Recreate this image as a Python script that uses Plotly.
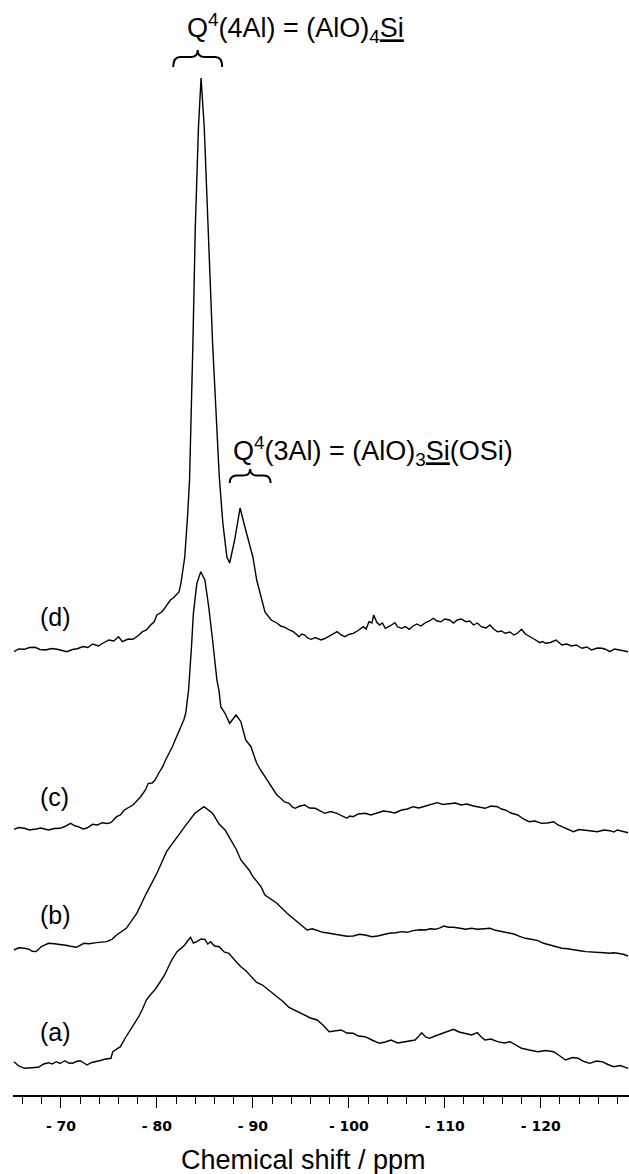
import plotly.graph_objects as go

# ---------------- data (chemical shift in ppm, intensity in arbitrary units) ----------------
shift_a = [-65.1, -65.6, -66.2, -66.9, -67.65, -68.2, -68.7, -69.1, -69.5, -69.9, -70.4, -70.8, -71.2, -71.6,
           -72.0, -72.4, -72.7, -73.2, -73.7, -74.1, -74.55, -74.9, -75.2, -75.4, -75.8, -76.2, -76.7, -77.26,
           -77.7, -78.1, -78.5, -78.9, -79.3, -79.77, -80.4, -80.8, -81.2, -81.6, -82.1, -82.5, -82.9, -83.2,
           -83.5, -83.8, -84.16, -84.6, -85.0, -85.3, -85.6, -86.0, -86.5, -87.0, -87.5, -88.1, -88.75, -89.3,
           -89.8, -90.4, -91.0, -91.5, -92.1, -92.6, -93.2, -93.77, -94.3, -94.8, -95.4, -96.0, -96.7, -97.3,
           -97.95, -98.5, -99.2, -99.8, -100.45, -101.0, -101.7, -102.4, -103.2, -103.8, -104.4, -105.1,
           -105.9, -106.4, -106.9, -107.3, -107.6, -108.0, -108.4, -109.0, -109.6, -110.2, -110.9, -111.5,
           -112.2, -112.8, -113.4, -113.8, -114.2, -114.8, -115.5, -116.2, -116.8, -117.4, -118.0, -118.8,
           -119.7, -120.5, -121.35, -122.0, -122.6, -123.3, -123.9, -124.5, -125.1, -125.8, -126.4, -127.0,
           -127.6, -128.3, -129.1]
int_a = [3.3, -1, -3.3, -2.5, -2.3, 1, 2.3, 1, 3.3, 1.5, 4.3, 2, 1.7, 3.5,
         4.3, 2, 0, 2.5, 3.3, 4.5, 5.7, 6, 6.7, 13.3, 16, 18.3, 27, 35,
         42, 48.3, 56, 65, 70, 75, 84, 90, 98.3, 106, 113.3, 117, 120, 124,
         127.7, 122, 123.3, 126, 125.7, 121, 123.3, 119, 118.3, 113, 111.7, 105, 98.3, 94,
         89, 82.5, 80, 76, 71.5, 68, 63, 57.5, 55, 52, 49, 47, 45, 40,
         33.3, 34, 35, 32, 31.7, 29, 28.3, 25, 21.7, 23, 25, 22,
         23.3, 24, 25, 29, 32.3, 28, 26.7, 29, 31, 33, 35.7, 33,
         31.7, 30, 32.3, 28, 25, 26, 23.3, 22, 23.3, 20, 16.7, 15,
         13.3, 14.5, 13.3, 9, 5, 7.5, 6.7, 3.5, 1.7, 4, 3.3, 0.5,
         -1.7, -0.5, -3.3]

shift_b = [-65.1, -65.6, -66.2, -66.7, -67.0, -67.4, -68.0, -68.7, -69.3, -69.9, -70.5, -71.0, -71.6, -72.4,
           -72.9, -73.7, -74.2, -74.75, -75.3, -75.8, -76.8, -77.9, -78.9, -80.0, -81.0, -82.1, -82.9, -83.3,
           -83.95, -84.9, -85.8, -86.5, -87.1, -87.5, -88.3, -88.75, -89.6, -90.0, -90.84, -91.26, -92.5,
           -93.56, -94.8, -95.65, -96.2, -96.7, -97.3, -97.95, -98.6, -99.2, -99.8, -100.45, -101.1, -101.7,
           -102.4, -103.0, -103.6, -104.2, -104.9, -105.5, -106.1, -106.7, -107.4, -108.0, -108.5, -109.0,
           -109.5, -109.9, -110.4, -110.9, -111.6, -112.2, -112.8, -113.4, -114.1, -114.7, -115.3, -115.9,
           -116.6, -117.2, -117.8, -118.4, -119.0, -119.7, -120.3, -120.9, -121.6, -122.2, -122.8, -123.4,
           -124.1, -124.7, -125.3, -125.9, -126.6, -127.2, -127.6, -128.0, -128.6, -129.1]
int_b = [-1.7, 0.5, 0, -1, -3, -3.3, 2, 5, 4.5, 4, 3, 2, 1, 5,
         4.5, 5.7, 6, 6.7, 9, 13.3, 20, 35, 55, 75, 96.7, 111.7, 121.6, 126.7,
         135, 141.7, 135, 124, 118.3, 111.7, 98.3, 88.3, 78.3, 71.7, 61.7, 53.3, 45,
         35, 25, 18.3, 19.5, 17.7, 16, 15, 14, 13.3, 12, 12.3, 14, 13.3,
         11.5, 12.3, 14, 15, 15.5, 16.7, 16, 17.7, 18.5, 18.3, 19.5, 19,
         20.5, 22.3, 21, 21, 20, 19, 20, 19, 19.5, 20, 18, 16.7,
         15.5, 14.3, 12, 10, 9, 7.7, 5, 3.3, 1.5, 0, -0.5, -1.7,
         -2.5, -3.3, -3.5, -4.3, -4.5, -5, -4.5, -5, -6, -7.7]

shift_c = [-65.1, -65.6, -66.2, -66.7, -67.4, -67.9, -68.7, -69.3, -69.9, -70.4, -71.0, -71.5, -71.8, -72.3,
           -72.7, -73.3, -73.8, -74.3, -74.8, -75.2, -75.8, -76.2, -76.6, -77.0, -77.5, -77.9, -78.3, -78.8,
           -79.1, -79.5, -79.8, -80.2, -80.6, -80.9, -81.2, -81.6, -81.9, -82.2, -82.5, -82.8, -83.0, -83.3,
           -83.6, -83.8, -84.16, -84.57, -85.0, -85.4, -85.8, -86.25, -86.46, -86.66, -87.08, -87.58, -88.25,
           -88.75, -89.25, -89.8, -90.1, -90.4, -90.8, -91.26, -91.7, -92.1, -92.5, -92.9, -93.3, -93.77,
           -94.1, -94.4, -94.9, -95.4, -95.9, -96.5, -97.0, -97.5, -98.1, -98.78, -99.3, -99.8, -100.1,
           -100.45, -101.0, -101.7, -102.3, -103.0, -103.6, -104.2, -104.8, -105.5, -106.1, -106.7, -107.3,
           -108.0, -108.6, -109.2, -109.8, -110.5, -111.1, -111.7, -112.3, -113.0, -113.6, -114.2, -114.8,
           -115.5, -115.9, -116.3, -116.9, -117.6, -118.2, -118.8, -119.4, -120.1, -120.7, -121.35, -121.8,
           -122.2, -122.8, -123.4, -124.0, -124.7, -125.3, -125.9, -126.6, -127.2, -127.6, -128.0, -128.6,
           -129.1]
int_c = [0.7, 2.5, 1.7, 0, 1, 2, 0, 1.5, 1.7, 3.5, 6.7, 4, 3.3, 1,
         2, 5.7, 5, 7.3, 6.5, 7.3, 13.3, 15, 20, 22, 25, 29, 33.3, 40,
         46.7, 47, 50, 57, 63.3, 70, 75, 83, 90, 97, 103, 110, 116.7, 140,
         183, 216.7, 246.7, 258.3, 250, 223, 190, 150, 140, 123, 117, 106.7, 115,
         108.3, 90, 83.3, 75, 66.7, 60, 53.3, 46, 40, 35, 31.7, 28, 26.7,
         23, 21.7, 24, 25, 22, 21.7, 19, 16.7, 18.5, 16.7, 14, 11.7, 14,
         13.3, 16, 16.7, 15, 17.3, 19, 18.3, 17, 20, 21, 23.3, 22,
         24, 26, 27.3, 25.5, 26.7, 27, 25, 26, 24, 22.5, 21.7, 24,
         23.3, 21, 20, 17, 15, 11, 8.3, 9, 6.7, 7, 8.3, 5,
         3.3, 1, -1.7, 0.5, 0, -1, -1.7, 0, -0.7, -2, 0, -1.5,
         -2.7]

shift_d = [-65.1, -65.6, -66.2, -66.7, -67.3, -67.8, -68.4, -69.0, -69.6, -70.2, -70.6, -71.2, -71.7, -72.3,
           -72.8, -73.3, -73.9, -74.4, -75.0, -75.5, -76.0, -76.4, -77.0, -77.5, -78.0, -78.5, -78.9, -79.35,
           -79.7, -80.0, -80.5, -80.8, -81.1, -81.4, -81.7, -82.0, -82.3, -82.5, -82.7, -82.9, -83.2, -83.4,
           -83.75, -84.0, -84.33, -84.6, -84.93, -85.3, -85.8, -86.5, -86.87, -87.29, -87.58, -88.1, -88.67,
           -89.17, -89.6, -90.0, -90.4, -90.84, -91.26, -91.9, -92.5, -92.9, -93.35, -93.8, -94.2, -94.5,
           -94.8, -95.1, -95.4, -95.7, -96.07, -96.5, -97.1, -97.5, -97.95, -98.4, -98.78, -99.2, -99.6,
           -100.0, -100.45, -100.9, -101.5, -101.8, -102.1, -102.4, -102.6, -102.9, -103.2, -103.5, -103.8,
           -104.3, -104.8, -105.1, -105.5, -105.9, -106.3, -106.7, -107.1, -107.5, -108.0, -108.4, -108.8,
           -109.2, -109.6, -110.0, -110.5, -110.9, -111.3, -111.7, -112.2, -112.6, -113.0, -113.4, -113.8,
           -114.3, -114.7, -115.1, -115.5, -115.9, -116.3, -116.8, -117.2, -117.6, -118.0, -118.4, -118.8,
           -119.3, -119.9, -120.2, -120.5, -121.0, -121.6, -121.9, -122.2, -122.7, -123.2, -123.7, -124.3,
           -124.8, -125.3, -125.9, -126.4, -126.8, -127.2, -127.7, -128.2, -128.6, -129.1]
int_d = [-1.7, 1, 0.7, 2.5, 2.7, 0.5, 0, 1.5, 0.7, -0.5, -1.7, 0.5, 1.3, 3.5,
         2.5, 6, 4, 7, 10, 9, 13.3, 8.3, 11, 10.7, 14, 18.3, 20, 25,
         28, 35, 38, 41.7, 46, 50, 52, 55, 58, 66.7, 78, 93, 135, 170,
         307, 423, 523, 572, 523, 423, 307, 173, 127, 93, 87, 110, 142,
         123, 107, 93, 70, 53, 38, 30, 27, 24, 22.7, 20, 18.3, 16,
         13.3, 16, 15, 12, 10.7, 12.5, 10, 11.5, 14, 16, 18.3, 15, 13.3,
         15.5, 16.7, 19, 23.3, 21, 28.3, 27, 35, 28, 25, 27, 21.7,
         24, 27.3, 23, 21.7, 23.5, 20.7, 24, 26, 24, 27.3, 29, 31.7,
         29, 28.3, 31, 30, 27, 30, 31, 28.3, 29, 25, 27, 23.3,
         22, 25, 21, 18.3, 19, 16.7, 18, 15, 17, 20.7, 16, 14,
         11, 7.3, 8.5, 6.7, 7.5, 10, 7, 5, 6, 4, 5, 1.7,
         3, 0, 2, 1.7, 0.5, -1.7, 1, 0, -1, -1.7]

sample_labels = ["(a)", "(b)", "(c)", "(d)"]
stack_offsets = [30, 146.7, 265, 445]   # vertical offset of each spectrum
tick_values = [-70, -80, -90, -100, -110, -120]
tick_labels = ["- 70", "- 80", "- 90", "- 100", "- 110", "- 120"]
minor_tick_values = [v for v in range(-66, -130, -2) if v % 10 != 0]

spectra = [(shift_a, int_a), (shift_b, int_b), (shift_c, int_c), (shift_d, int_d)]

# ---------------- figure ----------------
fig = go.Figure()
for (sx, si), off, lab in zip(spectra, stack_offsets, sample_labels):
    fig.add_trace(go.Scatter(x=sx, y=[v + off for v in si], mode="lines",
                             line=dict(color="black", width=1.4), name=lab,
                             showlegend=False, hoverinfo="skip"))

W, H = 629, 1174
ML, MB = 13, 79
PW, PH = W - ML, H - MB


def px2x(px):
    return -(65 + (px - 12.7) / 9.6)


def py2y(py):
    return PH - py


def brace(cpx, half, tip, bar, arm, r=7):
    l, rr = cpx - half, cpx + half
    pts = [
        f"M {px2x(l)},{py2y(arm)}",
        f"Q {px2x(l)},{py2y(bar)} {px2x(l + r)},{py2y(bar)}",
        f"L {px2x(cpx - r)},{py2y(bar)}",
        f"Q {px2x(cpx)},{py2y(bar)} {px2x(cpx)},{py2y(tip)}",
        f"Q {px2x(cpx)},{py2y(bar)} {px2x(cpx + r)},{py2y(bar)}",
        f"L {px2x(rr - r)},{py2y(bar)}",
        f"Q {px2x(rr)},{py2y(bar)} {px2x(rr)},{py2y(arm)}",
    ]
    return " ".join(pts)


fig.add_shape(type="path", xref="x", yref="y", path=brace(197.5, 24.5, 50, 57, 67),
              line=dict(color="black", width=2))
fig.add_shape(type="path", xref="x", yref="y", path=brace(250, 20.5, 469, 475.5, 483),
              line=dict(color="black", width=2))

font_main = "Liberation Sans, Arial, sans-serif"

fig.add_annotation(xref="paper", yref="paper", x=(185 - ML) / PW, y=1 - 27.5 / PH,
                   xanchor="left", yanchor="middle", showarrow=False,
                   text="Q<sup>4</sup>(4Al) = (AlO)<sub>4</sub><u>Si</u>",
                   font=dict(family=font_main, size=27, color="black"))
fig.add_annotation(xref="paper", yref="paper", x=(230.6 - ML) / PW, y=1 - 451 / PH,
                   xanchor="left", yanchor="middle", showarrow=False,
                   text="Q<sup>4</sup>(3Al) = (AlO)<sub>3</sub><u>Si</u>(OSi)",
                   font=dict(family=font_main, size=27, color="black"))

for lab, off in zip(sample_labels, stack_offsets):
    fig.add_annotation(xref="paper", yref="y", x=(38 - ML) / PW, y=off + 33,
                       xanchor="left", yanchor="middle", showarrow=False, text=lab,
                       font=dict(family=font_main, size=25, color="black"))

fig.add_annotation(xref="paper", yref="paper", x=(303 - ML) / PW, y=1 - (1160 - 0) / PH,
                   xanchor="center", yanchor="middle", showarrow=False,
                   text="Chemical shift / ppm",
                   font=dict(family=font_main, size=27, color="black"))

fig.update_xaxes(range=[-65, -129.2], tickmode="array", tickvals=tick_values, ticktext=tick_labels,
                 ticks="outside", ticklen=11, tickwidth=1, tickcolor="black",
                 showline=True, linewidth=2, linecolor="black", showgrid=False, zeroline=False,
                 tickfont=dict(family="DejaVu Sans", size=14, color="black", weight="bold"),
                 ticklabelstandoff=6,
                 minor=dict(tickmode="array", tickvals=minor_tick_values, ticks="outside",
                            ticklen=7, tickwidth=1, tickcolor="black", showgrid=False))
fig.update_yaxes(range=[0, PH], visible=False, showgrid=False, zeroline=False)

fig.update_layout(width=W, height=H, margin=dict(l=ML, r=0, t=0, b=MB),
                  paper_bgcolor="white", plot_bgcolor="white", showlegend=False)

fig.write_html("out.html")
